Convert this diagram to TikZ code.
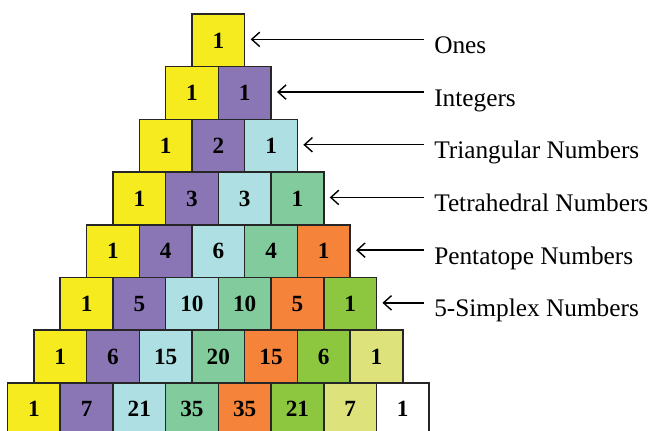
\documentclass[tikz,border=0pt]{standalone}
\usepackage{fontspec}
\setmainfont{Liberation Serif}
\usetikzlibrary{arrows.meta}

\definecolor{col0}{RGB}{245,235,30}
\definecolor{col1}{RGB}{139,118,181}
\definecolor{col2}{RGB}{174,223,227}
\definecolor{col3}{RGB}{130,203,156}
\definecolor{col4}{RGB}{245,132,58}
\definecolor{col5}{RGB}{141,198,63}
\definecolor{col6}{RGB}{221,227,122}
\definecolor{col7}{RGB}{255,255,255}

\begin{document}
\begin{tikzpicture}[x=0.025cm, y=-0.025cm,
        cell/.style={draw=black!85, line width=1.1pt, minimum width=1.3175cm, minimum height=1.3175cm,
            inner sep=0pt, font=\fontsize{16.5}{18}\selectfont\bfseries},
        lbl/.style={anchor=base west, inner sep=0pt, font=\fontsize{18}{20}\selectfont},
        pointer/.style={line width=1pt, -{Straight Barb[length=2mm, width=3.6mm]}, shorten >=0.13cm}
    ]
        \useasboundingbox (0,0) rectangle (654,430);
        \clip (0,0) rectangle (654,430);

        % the triangle, coloured by diagonal
        \foreach \vals [count=\r from 0] in {{1},{1,1},{1,2,1},{1,3,3,1},{1,4,6,4,1},
                {1,5,10,10,5,1},{1,6,15,20,15,6,1},{1,7,21,35,35,21,7,1}}{
            \foreach \v [count=\k from 0] in \vals {
                \node[cell, fill=col\k] (c-\r-\k) at (218.35+52.7*\k-26.35*\r, 40.35+52.7*\r) {\v};
            }
        }

        % names of the diagonals
        \foreach \name [count=\r from 0] in {Ones, Integers, Triangular Numbers, Tetrahedral Numbers,
                Pentatope Numbers, 5-Simplex Numbers}{
            \node[lbl] (lbl-\r) at (434, 53.35+52.7*\r) {\name};
            \coordinate (tail-\r) at (424, 39.35+52.7*\r);
            \draw[pointer] (tail-\r) -- (c-\r-\r.east |- tail-\r);
        }
    \end{tikzpicture}
\end{document}
